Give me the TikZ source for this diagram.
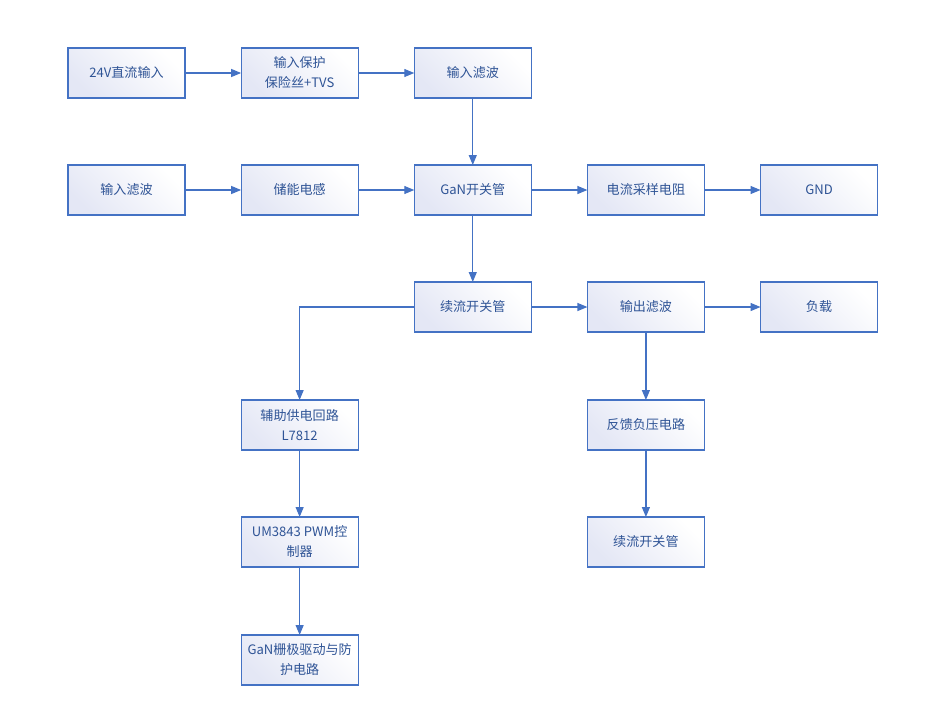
\documentclass[tikz,border=0pt]{standalone}
\usepackage{fontspec}
\setmainfont{Noto Sans CJK SC}
\usepackage{xcolor}
\usepackage{tikz}
\usetikzlibrary{arrows.meta, positioning}
\definecolor{boxblue}{RGB}{68,114,196}
\definecolor{textblue}{RGB}{47,84,150}
\definecolor{boxfill}{RGB}{228,231,245}
\tikzset{
  block/.style={rectangle, minimum width=87.75pt, minimum height=37.5pt,
    inner sep=2pt, outer sep=0pt, align=center, draw=boxblue, line width=0.9pt,
    left color=boxfill, right color=white, shading angle=135,
    text=textblue, font=\fontsize{9.8pt}{15pt}\selectfont},
  arrow/.style={-{Triangle[length=7.5pt, width=6pt]}, line width=0.9pt, color=boxblue},
}

\begin{document}
\begin{tikzpicture}[x=0.75pt, y=-0.75pt, node distance=50.25pt and 42.1pt]
  \useasboundingbox (0,0) rectangle (952,711);
  % top row
  \node[block] (in24) at (126.5,73) {24V直流输入};
  \node[block, right=of in24] (prot) {输入保护\\保险丝+TVS};
  \node[block, right=of prot] (filt1) {输入滤波};
  % second row
  \node[block, below=of filt1] (gan) {GaN开关管};
  \node[block, left=of gan] (ind) {储能电感};
  \node[block, left=of ind] (filt2) {输入滤波};
  \node[block, right=of gan] (sense) {电流采样电阻};
  \node[block, right=of sense] (gnd) {GND};
  % third row
  \node[block, below=of gan] (fw1) {续流开关管};
  \node[block, right=of fw1] (outf) {输出滤波};
  \node[block, right=of outf] (load) {负载};
  % feedback branch
  \node[block, below=51pt of outf] (fb) {反馈负压电路};
  \node[block, below=of fb] (fw2) {续流开关管};
  % control branch
  \node[block] (aux) at (ind |- fb) {辅助供电回路\\L7812};
  \node[block, below=of aux] (pwm) {UM3843 PWM控\\制器};
  \node[block, below=51pt of pwm] (drv) {GaN栅极驱动与防\\护电路};

  \draw[arrow] (in24) -- (prot);
  \draw[arrow] (prot) -- (filt1);
  \draw[arrow] (filt1) -- (gan);
  \draw[arrow] (filt2) -- (ind);
  \draw[arrow] (ind) -- (gan);
  \draw[arrow] (gan) -- (sense);
  \draw[arrow] (sense) -- (gnd);
  \draw[arrow] (gan) -- (fw1);
  \draw[arrow] (fw1) -- (outf);
  \draw[arrow] (outf) -- (load);
  \draw[arrow] (outf) -- (fb);
  \draw[arrow] (fb) -- (fw2);
  \draw[arrow] (fw1.west) -| (aux.north);
  \draw[arrow] (aux) -- (pwm);
  \draw[arrow] (pwm) -- (drv);
\end{tikzpicture}
\end{document}
